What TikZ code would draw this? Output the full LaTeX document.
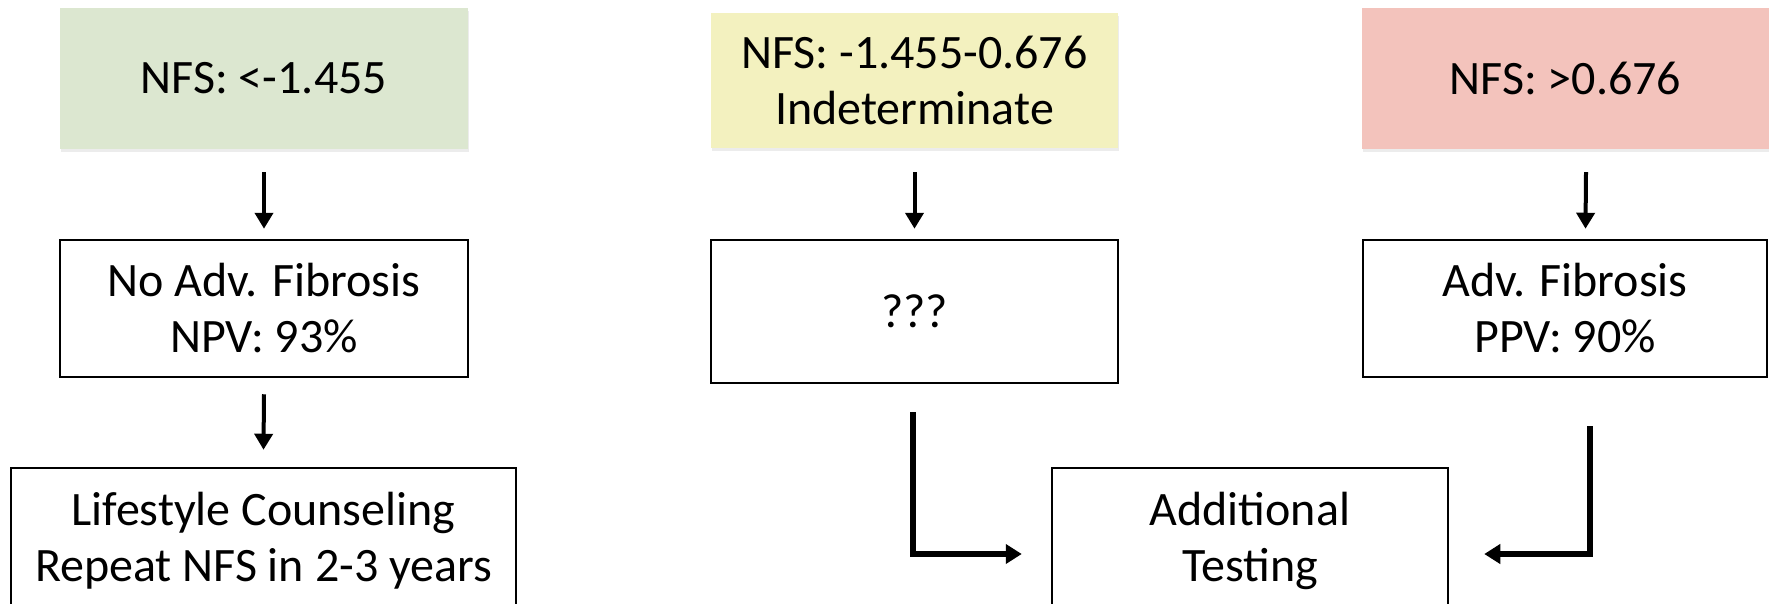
\documentclass[tikz,border=0pt]{standalone}
\usepackage{fontspec}
\setmainfont{Carlito}
\usetikzlibrary{arrows.meta,calc,shadows}
\definecolor{boxgreen}{RGB}{220,231,208}
\definecolor{boxyellow}{RGB}{243,241,191}
\definecolor{boxred}{RGB}{243,195,188}
\begin{document}
\begin{tikzpicture}[x=1pt,y=-1pt,
  every node/.style={font=\fontsize{48}{56}\selectfont, align=center, inner sep=0pt},
  topbox/.style={rectangle, draw=none, drop shadow={shadow xshift=1pt,shadow yshift=-3pt,opacity=0.15}},
  outbox/.style={rectangle, draw=black, line width=2.5pt, fill=white},
  thinarrow/.style={line width=4pt, -{Triangle[width=18pt,length=16pt]}},
  bentarrow/.style={line width=5.5pt, -{Triangle[width=19pt,length=16pt]}},
]
\useasboundingbox (0,0) rectangle (1769,603);
\clip (0,0) rectangle (1769,603);
\node[topbox, fill=boxgreen, minimum width=408pt, minimum height=141pt] (g) at (264,78.5) {NFS: <-1.455};
\node[topbox, fill=boxyellow, minimum width=407pt, minimum height=135pt] (y) at (914.5,80.5) {NFS: -1.455-0.676\\Indeterminate};
\node[topbox, fill=boxred, minimum width=407pt, minimum height=141pt] (r) at (1565.5,78.5) {NFS: >0.676};
\node[outbox, minimum width=408pt, minimum height=137pt] (nadv) at (264,308.5) {No Adv. Fibrosis\\NPV: 93\%};
\node[outbox, minimum width=407pt, minimum height=143pt] (unk) at (914.5,311.5) {???};
\node[outbox, minimum width=404pt, minimum height=137pt] (adv) at (1565,308.5) {Adv. Fibrosis\\PPV: 90\%};
\node[outbox, minimum width=505pt, minimum height=146pt] (life) at (263.5,541) {Lifestyle Counseling\\Repeat NFS in 2-3 years};
\node[outbox, minimum width=396pt, minimum height=146pt] (add) at (1250,541) {Additional\\Testing};
\draw[thinarrow] ($(g.south)+(0,23)$) -- ($(nadv.north)+(0,-10)$);
\draw[thinarrow] ($(y.south)+(0,24)$) -- ($(unk.north)+(0,-10)$);
\draw[thinarrow] ($(r.south)+(20.5,23)$) -- ($(adv.north)+(20.5,-10)$);
\draw[thinarrow] ($(nadv.south)+(0,16)$) -- ($(life.north)+(0,-17)$);
\draw[bentarrow] ($(unk.south)+(-1.5,28)$) |- ($(add.west)+(-29,13)$);
\draw[bentarrow] ($(adv.south)+(25,48)$) |- ($(add.east)+(35,13)$);
\end{tikzpicture}
\end{document}
